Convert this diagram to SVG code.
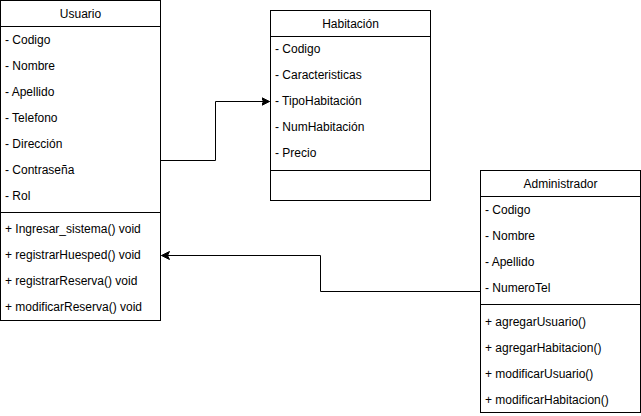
<svg xmlns="http://www.w3.org/2000/svg" width="641" height="416" viewBox="0 0 641 416">
<style>
.box{fill:#ffffff;stroke:#000000;stroke-width:1}
.ln{stroke:#000000;stroke-width:1;fill:none}
text{font-family:"Liberation Sans",Arial,Helvetica,sans-serif;font-size:12px;fill:#000000}
.t{text-anchor:middle}
.edge{stroke:#000000;stroke-width:1;fill:none;marker-end:url(#arr)}
</style>
<defs>
<marker id="arr" markerWidth="10" markerHeight="10" refX="8" refY="4.5" orient="auto" markerUnits="userSpaceOnUse">
<path d="M0,0.5 L8,4.5 L0,8.5 L2,4.5 Z" fill="#000000" stroke="#000000" stroke-width="1"/>
</marker>
</defs>
<rect width="641" height="416" fill="#ffffff"/>
<g id="connectors">
<path class="edge" d="M160.5,160.5 H215.5 V101.5 H269.5"/>
<path class="edge" d="M480.5,291.5 H320.5 V255.5 H161.5"/>
</g>
<g id="usuario">
<rect class="box" x="0.5" y="0.5" width="160" height="320"/>
<line class="ln" x1="0.5" y1="26.5" x2="160.5" y2="26.5"/>
<line class="ln" x1="0.5" y1="212.5" x2="160.5" y2="212.5"/>
<text class="t" x="80.5" y="18">Usuario</text>
<text x="5" y="44">- Codigo</text>
<text x="5" y="70">- Nombre</text>
<text x="5" y="96">- Apellido</text>
<text x="5" y="122">- Telefono</text>
<text x="5" y="148">- Dirección</text>
<text x="5" y="174">- Contraseña</text>
<text x="5" y="200">- Rol</text>
<text x="5" y="233">+ Ingresar_sistema() void</text>
<text x="5" y="259">+ registrarHuesped() void</text>
<text x="5" y="285">+ registrarReserva() void</text>
<text x="5" y="311">+ modificarReserva() void</text>
</g>
<g id="habitacion">
<rect class="box" x="270.5" y="10.5" width="160" height="190"/>
<line class="ln" x1="270.5" y1="36.5" x2="430.5" y2="36.5"/>
<line class="ln" x1="270.5" y1="170.5" x2="430.5" y2="170.5"/>
<text class="t" x="350.5" y="28">Habitación</text>
<text x="275" y="53">- Codigo</text>
<text x="275" y="79">- Caracteristicas</text>
<text x="275" y="105">- TipoHabitación</text>
<text x="275" y="131">- NumHabitación</text>
<text x="275" y="157">- Precio</text>
</g>
<g id="administrador">
<rect class="box" x="480.5" y="170.5" width="160" height="242"/>
<line class="ln" x1="480.5" y1="196.5" x2="640.5" y2="196.5"/>
<line class="ln" x1="480.5" y1="304.5" x2="640.5" y2="304.5"/>
<text class="t" x="560.5" y="188">Administrador</text>
<text x="485" y="214">- Codigo</text>
<text x="485" y="240">- Nombre</text>
<text x="485" y="266">- Apellido</text>
<text x="485" y="292">- NumeroTel</text>
<text x="485" y="326">+ agregarUsuario()</text>
<text x="485" y="352">+ agregarHabitacion()</text>
<text x="485" y="378">+ modificarUsuario()</text>
<text x="485" y="404">+ modificarHabitacion()</text>
</g>
</svg>
